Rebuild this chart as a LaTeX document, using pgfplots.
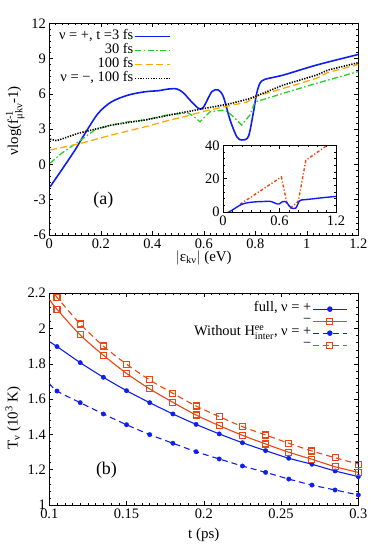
\documentclass[border=0pt]{standalone}
\usepackage{fontspec}
\setmainfont{Liberation Serif}
\usepackage{amsmath}
\usepackage{pgfplots}
\pgfplotsset{compat=1.18}

\definecolor{cblue}{RGB}{15,30,240}
\definecolor{cgreen}{RGB}{40,205,40}
\definecolor{corange}{RGB}{255,170,0}
\definecolor{cred}{RGB}{235,70,20}

\pgfplotsset{
  panel/.style={scale only axis, width=309bp, height=211.7bp,
    tick align=inside, major tick length=4bp, minor tick length=2bp,
    tick style={black, line width=0.5pt}, axis line style={line width=0.7pt},
    ticklabel style={font=\fontsize{14.5}{16}\selectfont},
    label style={font=\fontsize{15}{17}\selectfont},
    /pgf/number format/assume math mode=true},
}

\begin{document}
\begin{tikzpicture}
\useasboundingbox (0,0) rectangle (382bp,548bp);

% panel (a)
\begin{axis}[panel, at={(49.3bp,313bp)}, anchor=south west,
  xmin=0, xmax=1.2, ymin=-6, ymax=12,
  xtick={0,0.2,...,1.2}, ytick={-6,-3,...,12},
  minor x tick num=7, minor y tick num=5,
  xlabel={$|$ε\textsubscript{kν}$|$ (eV)},
  xlabel style={at={(axis description cs:0.5,-0.108)}, anchor=center},
  ylabel={νlog(f$^{\text{-1}}_{\text{μkν}}$-1)},
  ylabel style={at={(axis description cs:-0.11,0.54)}, anchor=center},
  legend cell align=right, legend plot pos=right,
  legend style={draw=none, fill=none, font=\fontsize{14.5}{16}\selectfont,
    at={(axis description cs:0.404,0.978)}, anchor=north east,
    nodes={inner sep=1bp, text height=8bp, text depth=2.5bp},
    row sep=1.5bp},
  legend image code/.code={\draw[#1] (0bp,0bp) -- (35bp,0bp);}]
\addplot[cblue, line width=1.6pt, smooth] coordinates {(0.003,-1.9)(0.048,-0.47)(0.1,1.23)(0.139,2.65)(0.19,4.35)(0.242,5.33)(0.307,5.9)(0.372,6.18)(0.423,6.27)(0.462,6.41)(0.495,6.42)(0.52,6.1)(0.546,5.48)(0.579,4.77)(0.598,4.85)(0.631,6.18)(0.656,6.33)(0.676,5.76)(0.702,3.78)(0.728,2.36)(0.747,2.08)(0.773,2.36)(0.792,4.35)(0.805,6.0)(0.818,6.9)(0.838,7.24)(0.909,7.6)(1.038,8.45)(1.2,9.35)};
\addlegendentry{ν = +, t =3 fs}
\addplot[cgreen, line width=1.3pt, dash pattern=on 6bp off 2.5bp on 1.5bp off 2.5bp] coordinates {(0.003,0.1)(0.048,0.95)(0.113,1.93)(0.177,2.93)(0.242,3.35)(0.307,3.63)(0.372,3.78)(0.469,4.25)(0.54,4.38)(0.565,4.0)(0.585,3.63)(0.624,4.48)(0.682,4.63)(0.708,4.2)(0.747,3.35)(0.779,4.2)(0.799,5.33)(0.825,5.48)(0.909,6.05)(1.038,6.9)(1.2,7.9)};
\addlegendentry{30 fs}
\addplot[corange, line width=1.3pt, dash pattern=on 7bp off 3.5bp] coordinates {(0.003,1.23)(0.113,1.74)(0.242,2.5)(0.372,3.2)(0.469,3.78)(0.514,4.0)(0.598,4.5)(0.689,4.95)(0.767,5.3)(0.805,5.8)(0.909,6.47)(1.038,7.32)(1.08,7.8)(1.2,8.5)};
\addlegendentry{100 fs}
\addplot[black, line width=1.6pt, dash pattern=on 1.3bp off 1.3bp] coordinates {(0.003,2.14)(0.029,2.02)(0.113,2.65)(0.242,3.35)(0.372,3.78)(0.514,4.4)(0.6,4.75)(0.7,5.15)(0.779,5.6)(0.909,6.75)(1.038,7.6)(1.083,8.03)(1.2,8.65)};
\addlegendentry{ν = −,  100 fs}
\node[font=\fontsize{18}{20}\selectfont] at (axis cs:0.21,-3.0) {(a)};
\end{axis}

% inset
\begin{axis}[scale only axis, at={(223bp,336bp)}, anchor=south west,
  width=113bp, height=66.7bp,
  xmin=0, xmax=1.2, ymin=0, ymax=40,
  xtick={0,0.6,1.2}, ytick={0,20,40},
  minor x tick num=5, minor y tick num=4,
  tick align=inside, major tick length=3.5bp, minor tick length=2bp,
  tick style={black, line width=0.5pt}, axis line style={line width=0.7pt},
  ticklabel style={font=\fontsize{14.5}{16}\selectfont},
  /pgf/number format/assume math mode=true,
  axis background/.style={fill=white}]
\addplot[cred, line width=1.4pt, dash pattern=on 3bp off 2bp on 1.2bp off 2bp] coordinates {(0.18,4.6)(0.62,21)(0.68,5)(0.72,2.5)(0.8,6.5)(0.88,31)(0.93,33)(1.12,40.5)(1.2,43)};
\addplot[cblue, line width=1.4pt, smooth] coordinates {(0.003,-1.9)(0.048,-0.47)(0.1,1.23)(0.139,2.65)(0.19,4.35)(0.242,5.33)(0.307,5.9)(0.372,6.18)(0.423,6.27)(0.462,6.41)(0.495,6.42)(0.52,6.1)(0.546,5.48)(0.579,4.77)(0.598,4.85)(0.631,6.18)(0.656,6.33)(0.676,5.76)(0.702,3.78)(0.728,2.36)(0.747,2.08)(0.773,2.36)(0.792,4.35)(0.805,6.0)(0.818,6.9)(0.838,7.24)(0.909,7.6)(1.038,8.45)(1.2,9.35)};
\end{axis}

% panel (b)
\begin{axis}[panel, at={(49.3bp,43bp)}, anchor=south west,
  xmin=0.1, xmax=0.3, ymin=1, ymax=2.2,
  xtick={0.1,0.15,...,0.3}, ytick={1,1.2,...,2.2},
  minor x tick num=9, minor y tick num=4,
  xlabel={t (ps)},
  xlabel style={at={(axis description cs:0.5,-0.142)}, anchor=center},
  ylabel={T\textsubscript{ν}  (10\textsuperscript{3} K)},
  ylabel style={at={(axis description cs:-0.117,0.41)}, anchor=center},
  legend cell align=right, legend plot pos=right,
  legend style={draw=none, fill=none, font=\fontsize{14.5}{16}\selectfont,
    at={(axis description cs:0.975,0.965)}, anchor=north east,
    nodes={inner sep=1bp, text height=8bp, text depth=2.5bp},
    row sep=-0.5bp},
  legend image code/.code={\draw[mark repeat=2, mark phase=2, #1] plot coordinates {(0bp,0bp) (17bp,0bp) (34bp,0bp)};}]
\addlegendimage{cblue, line width=1.1pt, mark=*, mark size=2.2bp}
\addlegendentry{full, ν = +}
\addlegendimage{cred, line width=1.1pt, mark=square, mark size=3bp, mark options={solid}}
\addlegendentry{−}
\addlegendimage{cblue, line width=1.1pt, dash pattern=on 6bp off 4bp, mark=*, mark size=2.2bp, mark options={solid}}
\addlegendentry{Without H$^{\text{ee}}_{\text{inter}}$, ν = +}
\addlegendimage{cred, line width=1.1pt, dash pattern=on 6bp off 4bp, mark=square, mark size=3bp, mark options={solid}}
\addlegendentry{−}
% full, nu = +
\addplot[cblue, line width=1.1pt, smooth, forget plot] coordinates {(0.1,1.926)(0.105,1.898)(0.12,1.807)(0.135,1.724)(0.15,1.648)(0.165,1.58)(0.18,1.516)(0.195,1.457)(0.21,1.403)(0.225,1.353)(0.24,1.308)(0.255,1.265)(0.27,1.231)(0.285,1.193)(0.3,1.161)};
\addplot[cblue, only marks, mark=*, mark size=2.2bp, forget plot] coordinates {(0.105,1.898)(0.12,1.807)(0.135,1.724)(0.15,1.648)(0.165,1.58)(0.18,1.516)(0.195,1.457)(0.21,1.403)(0.225,1.353)(0.24,1.308)(0.255,1.265)(0.27,1.231)(0.285,1.193)(0.3,1.161)};
% full, nu = -
\addplot[cred, line width=1.1pt, smooth, forget plot] coordinates {(0.1,2.166)(0.105,2.109)(0.12,1.964)(0.135,1.849)(0.15,1.746)(0.165,1.658)(0.18,1.582)(0.195,1.51)(0.21,1.45)(0.225,1.395)(0.24,1.346)(0.255,1.299)(0.27,1.259)(0.285,1.217)(0.3,1.185)};
\addplot[cred, only marks, mark=square, mark size=3bp, line width=1.1pt, forget plot] coordinates {(0.105,2.109)(0.12,1.964)(0.135,1.849)(0.15,1.746)(0.165,1.658)(0.18,1.582)(0.195,1.51)(0.21,1.45)(0.225,1.395)(0.24,1.346)(0.255,1.299)(0.27,1.259)(0.285,1.217)(0.3,1.185)};
% without, nu = +
\addplot[cblue, line width=1.1pt, dash pattern=on 6bp off 4bp, smooth, forget plot] coordinates {(0.1,1.69)(0.105,1.646)(0.12,1.58)(0.135,1.516)(0.15,1.455)(0.165,1.399)(0.18,1.35)(0.195,1.302)(0.21,1.261)(0.225,1.221)(0.24,1.185)(0.255,1.147)(0.27,1.113)(0.285,1.085)(0.3,1.057)};
\addplot[cblue, only marks, mark=*, mark size=2.2bp, forget plot] coordinates {(0.105,1.646)(0.12,1.58)(0.135,1.516)(0.15,1.455)(0.165,1.399)(0.18,1.35)(0.195,1.302)(0.21,1.261)(0.225,1.221)(0.24,1.185)(0.255,1.147)(0.27,1.113)(0.285,1.085)(0.3,1.057)};
% without, nu = -
\addplot[cred, line width=1.1pt, dash pattern=on 6bp off 4bp, smooth, forget plot] coordinates {(0.1,2.235)(0.105,2.177)(0.12,2.026)(0.135,1.901)(0.15,1.798)(0.165,1.709)(0.18,1.633)(0.195,1.561)(0.21,1.501)(0.225,1.444)(0.24,1.397)(0.255,1.35)(0.27,1.306)(0.285,1.268)(0.3,1.232)};
\addplot[cred, only marks, mark=square, mark size=3bp, line width=1.1pt, forget plot] coordinates {(0.105,2.177)(0.12,2.026)(0.135,1.901)(0.15,1.798)(0.165,1.709)(0.18,1.633)(0.195,1.561)(0.21,1.501)(0.225,1.444)(0.24,1.397)(0.255,1.35)(0.27,1.306)(0.285,1.268)(0.3,1.232)};
\node[font=\fontsize{18}{20}\selectfont] at (axis cs:0.137,1.198) {(b)};
\end{axis}
\end{tikzpicture}
\end{document}
